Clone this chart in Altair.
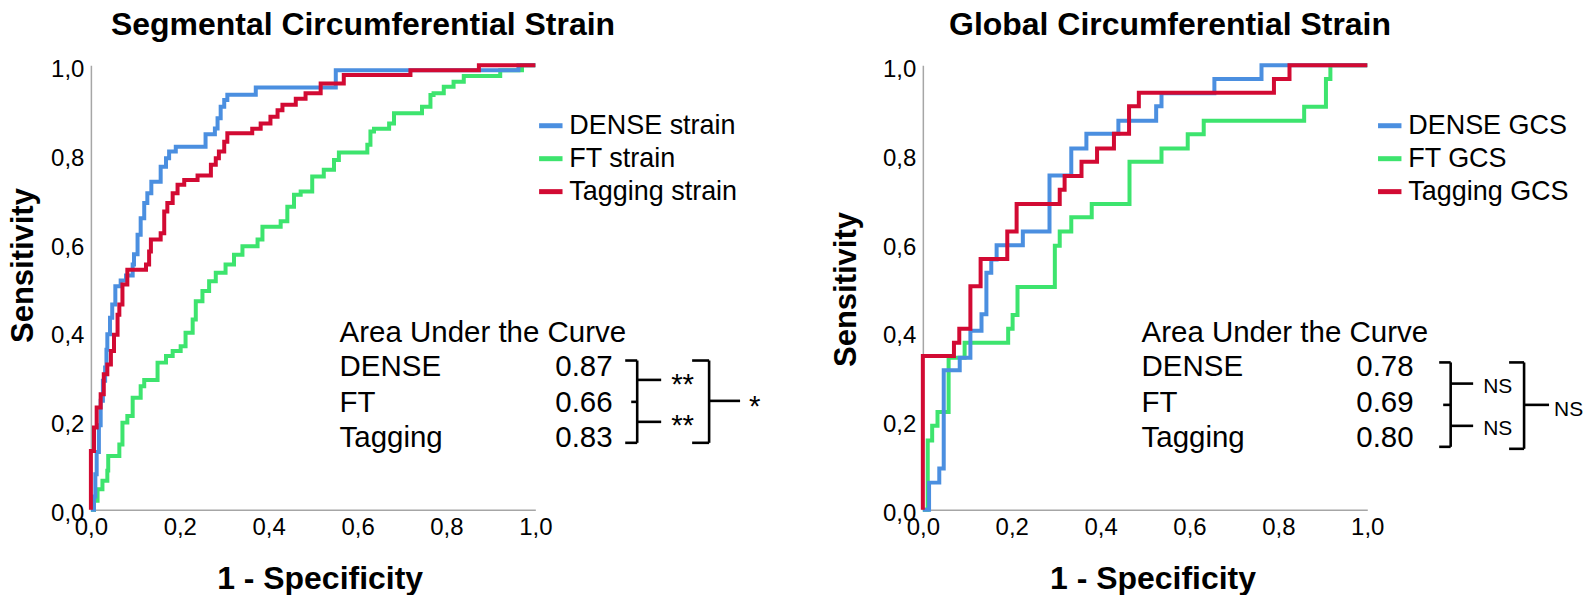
import altair as alt
import pandas as pd

FONT = "Liberation Sans"

# ---------------- data: ROC step vertices (1 - specificity, sensitivity) ----------------
# Segmental circumferential strain
seg_dense_x = [0, 0.007, 0.010, 0.013, 0.018, 0.022, 0.027, 0.032, 0.035, 0.037, 0.043, 0.048,
               0.055, 0.067, 0.079, 0.094, 0.097, 0.105, 0.112, 0.120, 0.127, 0.136, 0.157, 0.169,
               0.176, 0.191, 0.258, 0.279, 0.285, 0.292, 0.300, 0.307, 0.371, 0.551, 0.962, 1.0]
seg_dense_y = [0, 0.03, 0.08, 0.13, 0.19, 0.245, 0.29, 0.32, 0.36, 0.395, 0.432, 0.462,
               0.503, 0.516, 0.527, 0.552, 0.575, 0.619, 0.656, 0.690, 0.712, 0.738, 0.772, 0.791,
               0.806, 0.817, 0.845, 0.858, 0.881, 0.907, 0.922, 0.934, 0.950, 0.989, 1.0, 1.0]

seg_ft_x = [0, 0.004, 0.007, 0.015, 0.026, 0.037, 0.039, 0.064, 0.071, 0.082,
            0.094, 0.112, 0.120, 0.150, 0.169, 0.184, 0.202, 0.213, 0.229, 0.236,
            0.251, 0.266, 0.281, 0.303, 0.322, 0.341, 0.375, 0.386, 0.427, 0.442,
            0.457, 0.472, 0.498, 0.524, 0.547, 0.558, 0.622, 0.629, 0.637, 0.671,
            0.682, 0.745, 0.764, 0.771, 0.794, 0.816, 0.839, 0.921, 0.970, 1.0]
seg_ft_y = [0, 0, 0.020, 0.046, 0.065, 0.088, 0.121, 0.147, 0.196, 0.211,
            0.252, 0.278, 0.292, 0.331, 0.346, 0.357, 0.368, 0.398, 0.428, 0.469,
            0.492, 0.514, 0.533, 0.552, 0.574, 0.593, 0.608, 0.637, 0.649, 0.682,
            0.709, 0.716, 0.750, 0.765, 0.787, 0.804, 0.821, 0.851, 0.857, 0.869,
            0.892, 0.907, 0.933, 0.937, 0.952, 0.963, 0.976, 0.989, 1.0, 1.0]

seg_tag_x = [0, 0, 0.007, 0.013, 0.022, 0.029, 0.037, 0.045, 0.052, 0.060,
             0.064, 0.071, 0.082, 0.124, 0.131, 0.135, 0.157, 0.165, 0.172, 0.184,
             0.195, 0.210, 0.240, 0.270, 0.281, 0.288, 0.300, 0.307, 0.363, 0.382,
             0.404, 0.420, 0.431, 0.461, 0.483, 0.517, 0.569, 0.719, 0.873, 1.0]
seg_tag_y = [0, 0.132, 0.185, 0.230, 0.260, 0.305, 0.327, 0.357, 0.394, 0.439,
             0.462, 0.507, 0.540, 0.552, 0.581, 0.608, 0.622, 0.671, 0.690, 0.712,
             0.731, 0.742, 0.752, 0.776, 0.791, 0.806, 0.828, 0.847, 0.857, 0.869,
             0.884, 0.899, 0.911, 0.925, 0.937, 0.959, 0.978, 0.989, 1.0, 1.0]

# Global circumferential strain
glob_dense_x = [0, 0.014, 0.037, 0.047, 0.083, 0.107, 0.132, 0.143, 0.154, 0.166,
                0.225, 0.285, 0.334, 0.368, 0.440, 0.525, 0.537, 0.656, 0.762, 1.0]
glob_dense_y = [0, 0.061, 0.093, 0.314, 0.342, 0.403, 0.440, 0.533, 0.563, 0.595,
                0.626, 0.752, 0.813, 0.846, 0.875, 0.908, 0.937, 0.969, 1.0, 1.0]

glob_ft_x = [0, 0.011, 0.021, 0.033, 0.058, 0.094, 0.192, 0.202, 0.213, 0.297, 0.308,
             0.334, 0.380, 0.465, 0.537, 0.596, 0.632, 0.858, 0.907, 0.917, 1.0]
glob_ft_y = [0, 0.156, 0.189, 0.220, 0.342, 0.376, 0.407, 0.438, 0.501, 0.594, 0.626,
             0.658, 0.688, 0.783, 0.813, 0.845, 0.875, 0.907, 0.969, 1.0, 1.0]

glob_tag_x = [0, 0, 0.070, 0.082, 0.107, 0.130, 0.190, 0.211, 0.308, 0.319, 0.357,
              0.392, 0.430, 0.464, 0.486, 0.790, 0.825, 1.0]
glob_tag_y = [0, 0.346, 0.376, 0.407, 0.503, 0.564, 0.626, 0.688, 0.720, 0.751, 0.783,
              0.813, 0.846, 0.908, 0.938, 0.969, 1.0, 1.0]

seg_names = ["DENSE strain", "FT strain", "Tagging strain"]
glob_names = ["DENSE GCS", "FT GCS", "Tagging GCS"]
colors = ["#4b8fe0", "#3de46e", "#d20a33"]

auc_header = "Area Under the Curve"
auc_methods = ["DENSE", "FT", "Tagging"]
seg_auc = ["0.87", "0.66", "0.83"]
glob_auc = ["0.78", "0.69", "0.80"]
# significance: DENSE vs FT, FT vs Tagging, DENSE vs Tagging
seg_sig = ["**", "**", "*"]
glob_sig = ["NS", "NS", "NS"]

ticks = [0, 0.2, 0.4, 0.6, 0.8, 1.0]

# ---------------- layout ----------------
W = 445
H = 445
PLOT_BOTTOM = 509  # page y of the x axis (for annotation placement)


def roc_df(names, curves):
    rows = []
    # draw order: FT (green) first, DENSE, Tagging (red) on top
    for k in [1, 0, 2]:
        xs, ys = curves[k]
        for i, (a, b) in enumerate(zip(xs, ys)):
            rows.append({"fpr": a, "tpr": b, "series": names[k], "idx": i})
    return pd.DataFrame(rows)


def panel(names, curves, auc_vals, sig, lay):
    x0 = lay["x0"]

    def dx(px):
        return (px - x0) / W

    def dy(py):
        return (PLOT_BOTTOM - py) / H

    xsc = alt.Scale(domain=[0, 1], nice=False, zero=False)
    ysc = alt.Scale(domain=[0, 1], nice=False, zero=False)
    lab = "replace(format(datum.value, '.1f'), '.', ',')"

    xaxis = alt.Axis(values=ticks, labelExpr=lab, title="1 - Specificity",
                     titleFontSize=32, titleFontWeight="bold", titleFont=FONT, titleColor="black",
                     titleX=lay["xtitle_x"], titleY=lay["xtitle_y"], titleBaseline="middle",
                     titleAlign="center", labelFontSize=24, labelFont=FONT, labelColor="black",
                     labelPadding=6, ticks=False, grid=False, domainColor="#a6a6a6",
                     domainWidth=1.5, labelFlush=False, labelOverlap=False)
    yaxis = alt.Axis(values=ticks, labelExpr=lab, title="Sensitivity",
                     titleFontSize=31, titleFontWeight="bold", titleFont=FONT, titleColor="black",
                     titleAngle=270, titleX=lay["ytitle_x"], titleY=lay["ytitle_y"],
                     titleBaseline="middle", titleAlign="center",
                     labelFontSize=24, labelFont=FONT, labelColor="black", labelPadding=7,
                     labelOffset=4, ticks=False, grid=False, domainColor="#a6a6a6",
                     domainWidth=1.5, labelFlush=False, labelOverlap=False)

    df = roc_df(names, curves)
    lines = alt.Chart(df).mark_line(interpolate="step-after", strokeWidth=4,
                                    strokeCap="butt").encode(
        x=alt.X("fpr:Q", scale=xsc, axis=xaxis),
        y=alt.Y("tpr:Q", scale=ysc, axis=yaxis),
        color=alt.Color("series:N", scale=alt.Scale(domain=names, range=colors),
                        legend=alt.Legend(orient="none", legendX=lay["legend_x"], legendY=46,
                                          title=None, symbolType="stroke", symbolStrokeWidth=5,
                                          symbolSize=550, labelFontSize=27, labelFont=FONT,
                                          labelColor="black", labelOffset=4, rowPadding=5,
                                          padding=0, labelLimit=400)),
        order="idx:Q",
    )

    # AUC table text
    row_y = [340.6, 375.1, 411.3, 446.2]
    trows = [{"t": auc_header, "x": dx(lay["lab_x"]), "y": dy(row_y[0]), "fs": 29.5}]
    for i in range(3):
        trows.append({"t": auc_methods[i], "x": dx(lay["lab_x"]), "y": dy(row_y[i + 1]), "fs": 29.5})
        trows.append({"t": auc_vals[i], "x": dx(lay["val_x"]), "y": dy(row_y[i + 1]), "fs": 29.5})
    for (t, px, py, fs) in lay["sig_pos"](sig):
        trows.append({"t": t, "x": dx(px), "y": dy(py), "fs": fs})
    tdf = pd.DataFrame(trows)
    texts = alt.Chart(tdf).mark_text(align="left", baseline="alphabetic", font=FONT,
                                     color="black").encode(
        x=alt.X("x:Q", scale=xsc, axis=xaxis),
        y=alt.Y("y:Q", scale=ysc, axis=yaxis),
        text="t:N",
        size=alt.Size("fs:Q", scale=None, legend=None),
    )

    # bracket segments
    b = lay["br"]
    segs = []
    xv, xh, yt, yb, yj, xj = b["xv"], b["xh"], b["yt"], b["yb"], b["yj"], b["xj"]
    segs += [(xh, yt, xv, yt), (xv, yt, xv, yb), (xh, yb, xv, yb), (xj, yj, xv, yj)]
    for ty in b["ticks"]:
        segs.append((xv, ty, b["xt"], ty))
    XV, XH, YT, YB = b["XV"], b["XH"], b["YT"], b["YB"]
    segs += [(XH, YT, XV, YT), (XV, YT, XV, YB), (XH, YB, XV, YB), (XV, b["YM"], b["XT"], b["YM"])]
    bdf = pd.DataFrame([{"x": dx(a), "y": dy(c), "x2": dx(d), "y2": dy(e)} for a, c, d, e in segs])
    rules = alt.Chart(bdf).mark_rule(color="black", strokeWidth=2.6).encode(
        x=alt.X("x:Q", scale=xsc, axis=xaxis), x2="x2:Q",
        y=alt.Y("y:Q", scale=ysc, axis=yaxis), y2="y2:Q",
    )

    return alt.layer(lines, rules, texts).properties(
        width=W, height=H,
        title=alt.TitleParams(lay["title"], fontSize=32, fontWeight="bold", font=FONT,
                              color="black", anchor="middle", frame="group",
                              dx=lay["title_dx"], offset=15.5),
    )


seg_layout = {
    "x0": 90, "title": "Segmental Circumferential Strain", "title_dx": 50,
    "xtitle_x": 229, "xtitle_y": 69, "ytitle_x": -67, "ytitle_y": 200,
    "legend_x": 446, "lab_x": 339, "val_x": 555,
    "br": {"xv": 637, "xh": 625, "yt": 359.6, "yb": 442, "yj": 401, "xj": 631,
           "ticks": [379, 421], "xt": 661,
           "XV": 709, "XH": 692, "YT": 359.6, "YB": 442, "YM": 400, "XT": 740},
    "sig_pos": lambda s: [(s[0], 671, 393, 29.5), (s[1], 671, 434, 29.5), (s[2], 749, 415, 29.5)],
}
glob_layout = {
    "x0": 923, "title": "Global Circumferential Strain", "title_dx": 25,
    "xtitle_x": 230, "xtitle_y": 69, "ytitle_x": -76, "ytitle_y": 224,
    "legend_x": 453, "lab_x": 1142, "val_x": 1357,
    "br": {"xv": 1451.5, "xh": 1440, "yt": 361.5, "yb": 446, "yj": 404, "xj": 1444,
           "ticks": [382.7, 425], "xt": 1474,
           "XV": 1525, "XH": 1510, "YT": 361.5, "YB": 448, "YM": 404, "XT": 1550},
    "sig_pos": lambda s: [(s[0], 1484, 392, 21), (s[1], 1484, 434.5, 21), (s[2], 1555, 415, 21)],
}

left = panel(seg_names,
             [(seg_dense_x, seg_dense_y), (seg_ft_x, seg_ft_y), (seg_tag_x, seg_tag_y)],
             seg_auc, seg_sig, seg_layout)
right = panel(glob_names,
              [(glob_dense_x, glob_dense_y), (glob_ft_x, glob_ft_y), (glob_tag_x, glob_tag_y)],
              glob_auc, glob_sig, glob_layout)

chart = alt.hconcat(left, right, spacing=388, bounds="flush").resolve_scale(
    color="independent"
).properties(
    padding={"left": 0, "top": 0, "right": 0, "bottom": 0},
    background="white",
).configure_view(stroke=None)

chart.save("out.html", embed_options={"renderer": "svg", "actions": False})
